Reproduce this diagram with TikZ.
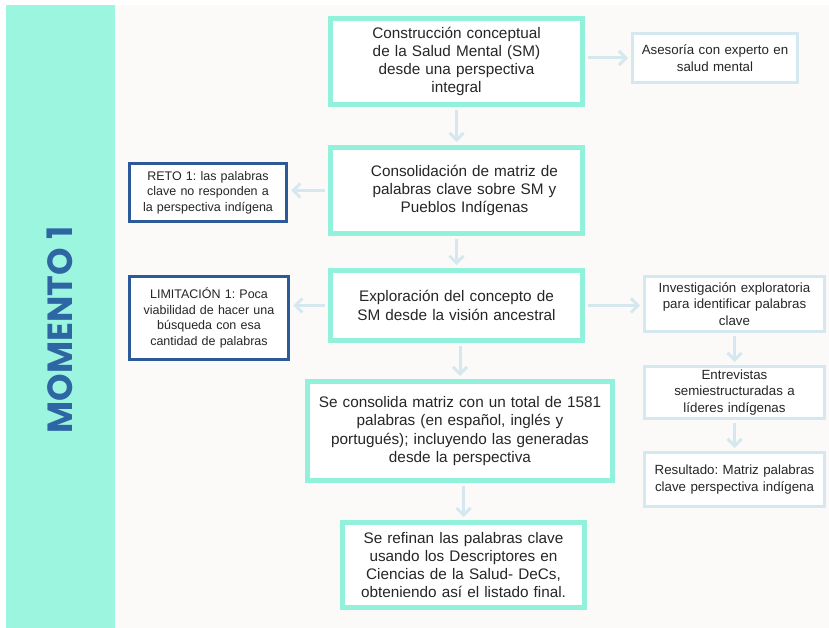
\documentclass[tikz,border=0pt]{standalone}
\usepackage{fontspec}
\setmainfont{Liberation Sans}
\newfontfamily\titlefont{Poppins}
\frenchspacing
\usepackage{tikz}
\usetikzlibrary{calc,arrows.meta,positioning}
\definecolor{bandteal}{HTML}{9CF5DF}
\definecolor{boxteal}{HTML}{91F1DA}
\definecolor{paleblue}{HTML}{D5E7EF}
\definecolor{darkblue}{HTML}{2C5A98}
\definecolor{titleblue}{HTML}{2E66A3}
\definecolor{paper}{HTML}{FCFAF8}
\definecolor{txt}{HTML}{262626}
\tikzset{
	>=latex,
	mainbox/.style={draw=boxteal, line width=5pt, fill=white, align=center,
		text=txt, inner sep=2pt, font=\fontsize{15.3}{18.3}\selectfont},
	sidebox/.style={draw=paleblue, line width=3pt, fill=white, align=center,
		text=txt, inner sep=2pt, font=\fontsize{13.3}{16.4}\selectfont},
	warnbox/.style={draw=darkblue, line width=3.5pt, fill=white, align=center,
		text=txt, inner sep=2pt, font=\fontsize{12.5}{15.5}\selectfont},
	flow/.style={paleblue, line width=3pt,
		-{Straight Barb[length=7pt,width=14pt,line width=3pt]}, shorten <=3pt, shorten >=3pt}
}

\begin{document}
\begin{tikzpicture}[x=1pt,y=-1pt]
	% page and side band
	\useasboundingbox (0,0) rectangle (829,628);
	\fill[paper] (0,5) rectangle (829,628);
	\fill[white] (0,5) rectangle (6,628);
	\fill[bandteal] (6,5) rectangle (115,628);
	\node[rotate=90, text=titleblue, font=\titlefont\bfseries\fontsize{35}{40}\selectfont]
		(titulo) at (60,330) {MOMENTO\hspace{8pt}1};
	
	% central column
	\node[mainbox, minimum width=252pt, minimum height=86pt, text width=230pt]
		(construccion) at (456.5,61.5)
		{Construcción conceptual\\ de la Salud Mental (SM)\\ desde una perspectiva\\ integral};
	\node[mainbox, minimum width=252pt, minimum height=86pt, text width=240pt]
		(consolidacion) at (456.5,190.5)
		{\hspace*{16pt}Consolidación de matriz de\\ \hspace*{16pt}palabras clave sobre SM y\\ \hspace*{16pt}Pueblos Indígenas};
	\node[mainbox, minimum width=252pt, minimum height=70pt, text width=240pt]
		(exploracion) at (456.5,305.5)
		{Exploración del concepto de\\ SM desde la visión ancestral};
	\node[mainbox, minimum width=305pt, minimum height=99pt, text width=295pt]
		(matriz) at (460,431)
		{Se consolida matriz con un total de 1581\\ palabras (en español, inglés y\\ portugués); incluyendo las generadas\\ desde la perspectiva};
	\node[mainbox, minimum width=242pt, minimum height=85pt, text width=236pt]
		(refinan) at (463.5,565)
		{Se refinan las palabras clave\\ usando los Descriptores en\\ Ciencias de la Salud- DeCs,\\ obteniendo así el listado final.};
	
	% right column
	\node[sidebox, minimum width=165pt, minimum height=49pt, text width=160pt]
		(asesoria) at (715,58) {Asesoría con experto en\\ salud mental};
	\node[sidebox, minimum width=180pt, minimum height=55pt, text width=175pt]
		(investigacion) at (734.5,304)
		{Investigación exploratoria\\ para identificar palabras\\ clave};
	\node[sidebox, minimum width=180pt, minimum height=52pt, text width=175pt]
		(entrevistas) at (734.5,392.5)
		{Entrevistas\\ semiestructuradas a\\ líderes indígenas};
	\node[sidebox, minimum width=180pt, minimum height=54pt, text width=175pt]
		(resultado) at (734.5,479.5)
		{Resultado: Matriz palabras\\ clave perspectiva indígena};
	
	% left column
	\node[warnbox, minimum width=157pt, minimum height=58pt, text width=152pt]
		(reto) at (208,192.5)
		{RETO 1: las palabras\\ clave no responden a\\ la perspectiva indígena};
	\node[warnbox, minimum width=159pt, minimum height=83pt, text width=154pt]
		(limitacion) at (209,318)
		{LIMITACIÓN 1: Poca\\ viabilidad de hacer una\\ búsqueda con esa\\ cantidad de palabras};
	
	% connectors
	\draw[flow] (construccion.east |- asesoria.west) -- (asesoria.west);
	\draw[flow] (construccion) -- (consolidacion);
	\draw[flow] (consolidacion) -- (consolidacion -| reto.east);
	\draw[flow] (consolidacion) -- (exploracion);
	\draw[flow] (exploracion) -- (exploracion -| limitacion.east);
	\draw[flow] (exploracion) -- (exploracion -| investigacion.west);
	\draw[flow] (matriz.north |- exploracion.south) -- (matriz.north);
	\draw[flow] (refinan.north |- matriz.south) -- (refinan.north);
	\draw[flow] (investigacion) -- (entrevistas);
	\draw[flow] (entrevistas) -- (resultado);
\end{tikzpicture}
\end{document}
